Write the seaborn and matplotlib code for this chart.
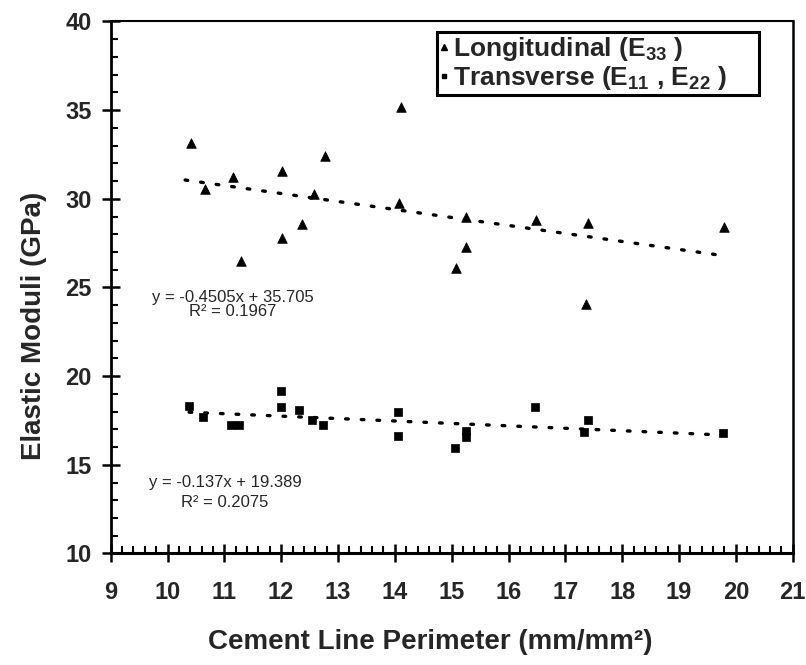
import numpy as np
import pandas as pd
import matplotlib
matplotlib.use("Agg")
import matplotlib.pyplot as plt
import seaborn as sns
from matplotlib.lines import Line2D
from matplotlib.ticker import MultipleLocator

sns.set_theme(style="white")
plt.rcParams['font.family'] = ['Liberation Sans', 'DejaVu Sans']
plt.rcParams['mathtext.default'] = 'regular'

# ---- data ----
long_x = [10.41, 10.66, 11.16, 11.29, 12.02, 12.01, 12.36, 12.58, 12.77,
          14.11, 14.08, 15.07, 15.26, 15.26, 16.49, 17.36, 17.40, 19.80]
long_y = [33.12, 30.57, 31.24, 26.50, 31.56, 27.81, 28.59, 30.27, 32.42,
          35.15, 29.77, 26.12, 28.98, 27.29, 28.81, 24.06, 28.62, 28.42]

trans_x = [10.38, 10.62, 11.11, 11.26, 11.99, 11.99, 12.32, 12.55, 12.73,
           14.05, 14.06, 15.06, 15.25, 15.25, 16.47, 17.33, 17.39, 19.78]
trans_y = [18.29, 17.71, 17.24, 17.23, 19.16, 18.28, 18.11, 17.53, 17.24,
           17.97, 16.61, 15.93, 16.89, 16.55, 18.27, 16.83, 17.52, 16.77]

long_slope, long_intercept = -0.4505, 35.705
trans_slope, trans_intercept = -0.137, 19.389
long_eq = "y = -0.4505x + 35.705"
long_r2 = "R\u00b2 = 0.1967"
trans_eq = "y = -0.137x + 19.389"
trans_r2 = "R\u00b2 = 0.2075"

x_ticks = list(range(9, 22))
y_ticks = [10, 15, 20, 25, 30, 35, 40]

df_long = pd.DataFrame({"x": long_x, "y": long_y})
df_trans = pd.DataFrame({"x": trans_x, "y": trans_y})

fig = plt.figure(figsize=(8.06, 6.65), dpi=100)
ax = fig.add_axes([0.1373, 0.1677, 0.8462, 0.8000])

sns.scatterplot(data=df_long, x="x", y="y", marker="^", color="black",
                s=48, edgecolor="black", linewidth=0.5, ax=ax, legend=False)
sns.scatterplot(data=df_trans, x="x", y="y", marker="s", color="black",
                s=40, edgecolor="black", linewidth=0.5, ax=ax, legend=False)

# trendlines from the fitted equations
lx = np.array([min(long_x) - 0.1, max(long_x)])
ax.plot(lx, long_slope * lx + long_intercept, color="black", lw=2.4,
        dashes=(0.8, 3.9), dash_capstyle="round")
tx = np.array([min(trans_x), max(trans_x)])
ax.plot(tx, trans_slope * tx + trans_intercept, color="black", lw=2.4,
        dashes=(0.8, 3.9), dash_capstyle="round")

ax.set_xlim(9, 21)
ax.set_ylim(10, 40)
ax.set_xticks(x_ticks)
ax.set_yticks(y_ticks)
ax.xaxis.set_minor_locator(MultipleLocator(0.2))
ax.yaxis.set_minor_locator(MultipleLocator(1))
ax.tick_params(axis="both", which="major", direction="inout", length=13.5,
               width=1.8, color="black", labelsize=17)
ax.tick_params(axis="both", which="minor", direction="in", length=5,
               width=1.5, color="black")
ax.tick_params(axis="x", which="both", bottom=True)
ax.tick_params(axis="y", which="both", left=True)
ax.tick_params(axis="x", which="major", pad=13)
ax.tick_params(axis="y", which="major", pad=7)
for lab in ax.get_xticklabels() + ax.get_yticklabels():
    lab.set_fontweight("bold")

for side, w in [("left", 2.0), ("bottom", 2.2), ("top", 1.5), ("right", 1.8)]:
    ax.spines[side].set_visible(True)
    ax.spines[side].set_color("black")
    ax.spines[side].set_linewidth(w)

ax.set_xlabel("Cement Line Perimeter (mm/mm\u00b2)", fontsize=20,
              fontweight="bold")
ax.set_ylabel("Elastic Moduli (GPa)", fontsize=20, fontweight="bold")
ax.xaxis.set_label_coords(0.468, -0.142)
ax.yaxis.set_label_coords(-0.093, 0.428)

# equations
ax.text(11.15, 24.06, long_eq + "\n" + long_r2, fontsize=12, ha="center",
        va="center", multialignment="center", linespacing=0.9)
ax.text(11.01, 13.45, trans_eq + "\n" + trans_r2, fontsize=12, ha="center",
        va="center", multialignment="center", linespacing=1.42)

handles = [
    Line2D([], [], marker="^", color="black", linestyle="none", markersize=4),
    Line2D([], [], marker="s", color="black", linestyle="none", markersize=3.5),
]
labels = ["Longitudinal (E$_{33}$ )", "Transverse (E$_{11}$ , E$_{22}$ )"]
leg = ax.legend(handles, labels, loc="upper left",
                bbox_to_anchor=(437 / 806, 1 - 32 / 665 - 0.01, 322 / 806, 0.01),
                bbox_transform=fig.transFigure, borderaxespad=0, mode="expand",
                fancybox=False, edgecolor="black", framealpha=1,
                handlelength=0.3, handletextpad=0.2, borderpad=0.12,
                labelspacing=0.03, prop={"weight": "bold", "size": 19})
leg.get_frame().set_linewidth(2.2)

fig.savefig("out.png", dpi=100, facecolor="white")
